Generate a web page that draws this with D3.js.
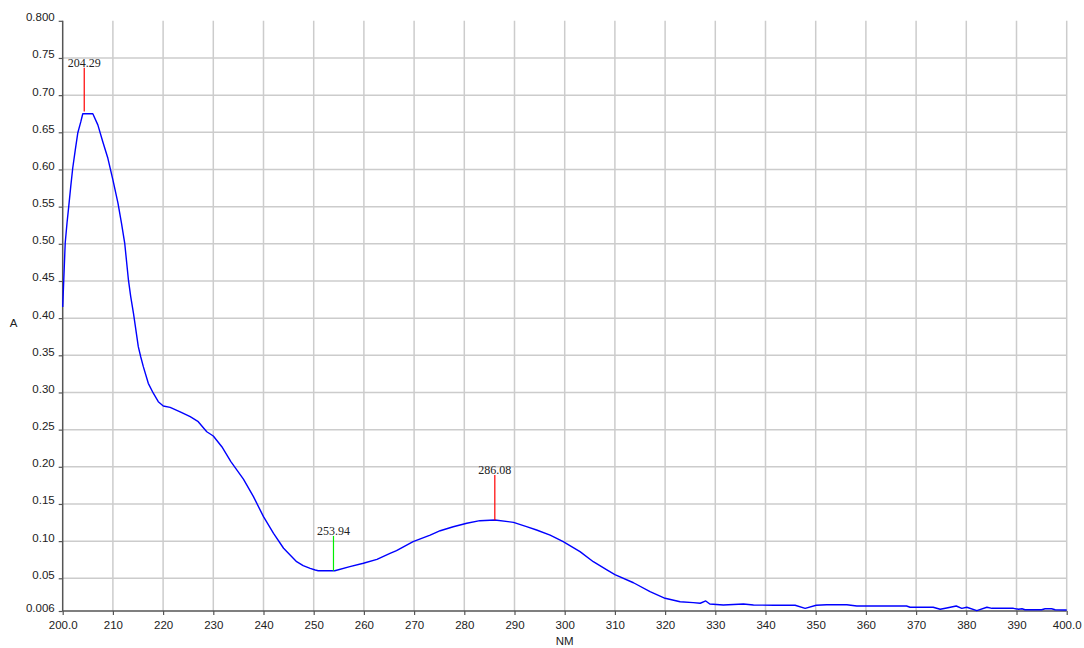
<!DOCTYPE html>
<html>
<head>
<meta charset="utf-8">
<script src="https://cdn.jsdelivr.net/npm/d3@7"></script>
<style>
  html, body { margin: 0; padding: 0; background: #ffffff; }
  svg { display: block; }
</style>
</head>
<body>
<script>
// ---- Data ----
const wavelengths = [
  200.0, 200.5, 200.86, 201.2, 201.6, 202.0, 202.5, 203.0, 203.6, 204.0,
  206.0, 207.0, 208.0, 209.0, 210.0, 211.0, 211.7, 212.35, 213.1, 213.55,
  214.1, 215.06, 215.54, 216.06, 217.05, 218.05, 219.04, 220.04, 221.4, 223.4,
  225.4, 227.0, 228.7, 230.0, 231.7, 233.5, 236.0, 238.0, 240.0, 242.0,
  244.0, 246.6, 247.9, 249.3, 250.3, 250.9, 254.2, 257.2, 259.9, 262.6,
  265.2, 266.5, 269.8, 273.2, 275.2, 277.8, 280.5, 283.1, 286.1, 289.8,
  292.4, 294.4, 297.1, 299.7, 303.05, 305.7, 308.4, 310.0, 313.7, 317.0,
  320.0, 323.0, 325.6, 327.0, 328.1, 328.9, 331.6, 335.6, 337.6, 341.6,
  345.9, 347.9, 350.1, 352.2, 356.2, 358.2, 368.1, 368.8, 373.4, 374.8,
  376.1, 378.0, 379.1, 380.1, 382.1, 384.1, 385.1, 389.4, 390.4, 391.1,
  391.7, 395.0, 395.7, 397.0, 397.7, 400.0
];
const absorbance = [
  0.415, 0.501, 0.528, 0.550, 0.577, 0.602, 0.626, 0.649, 0.664, 0.675,
  0.675, 0.660, 0.637, 0.615, 0.586, 0.555, 0.528, 0.501, 0.451, 0.429,
  0.4065, 0.3616, 0.348, 0.3347, 0.3123, 0.299, 0.2876, 0.2818, 0.280, 0.274,
  0.2674, 0.2607, 0.2472, 0.2414, 0.227, 0.207, 0.1835, 0.1598, 0.1329, 0.1105,
  0.0904, 0.0723, 0.067, 0.0634, 0.0612, 0.0602, 0.0602, 0.0656, 0.0702, 0.0755,
  0.0836, 0.0871, 0.0993, 0.1082, 0.114, 0.1194, 0.124, 0.1275, 0.1284, 0.1253,
  0.1194, 0.115, 0.1082, 0.0993, 0.0858, 0.0723, 0.0612, 0.0548, 0.0440, 0.032,
  0.0231, 0.0185, 0.0172, 0.0164, 0.0195, 0.0154, 0.0141, 0.0154, 0.0141, 0.0137,
  0.0137, 0.0096, 0.0137, 0.0145, 0.0145, 0.0127, 0.0127, 0.011, 0.011, 0.0083,
  0.010, 0.0127, 0.0096, 0.011, 0.0064, 0.011, 0.0096, 0.0096, 0.0083, 0.009,
  0.0077, 0.0077, 0.009, 0.009, 0.0077, 0.0073
];

// Peak / valley markers
const peakNm    = [204.29, 253.94, 286.08];
const peakBase  = [0.678, 0.060, 0.128];
const peakTop   = [0.737, 0.107, 0.189];
const peakType  = ["max", "min", "max"];
const peakLabel = ["204.29", "253.94", "286.08"];

// Axis ticks
const xTickValues = [200, 210, 220, 230, 240, 250, 260, 270, 280, 290, 300,
                     310, 320, 330, 340, 350, 360, 370, 380, 390, 400];
const xTickLabels = ["200.0", "210", "220", "230", "240", "250", "260", "270", "280", "290", "300",
                     "310", "320", "330", "340", "350", "360", "370", "380", "390", "400.0"];
const yTickValues = [0.006, 0.05, 0.10, 0.15, 0.20, 0.25, 0.30, 0.35, 0.40,
                     0.45, 0.50, 0.55, 0.60, 0.65, 0.70, 0.75, 0.800];
const yTickLabels = ["0.006", "0.05", "0.10", "0.15", "0.20", "0.25", "0.30", "0.35", "0.40",
                     "0.45", "0.50", "0.55", "0.60", "0.65", "0.70", "0.75", "0.800"];

const xTitle = "NM";
const yTitle = "A";

// ---- Layout ----
const W = 1084, H = 648;
const mLeft = 62.7, mRight = 1066.7, mTop = 20.8, mBottom = 611;

const svg = d3.select("body").append("svg")
  .attr("width", W).attr("height", H)
  .style("font-family", "'Liberation Sans', Arial, sans-serif");

const x = d3.scaleLinear().domain([200, 400]).range([mLeft, mRight]);
const y = d3.scaleLinear().domain([0.006, 0.8]).range([mBottom, mTop]);

// Grid
const grid = svg.append("g").attr("class", "grid");
grid.selectAll("line.v").data(xTickValues.slice(1)).enter().append("line")
  .attr("class", "v")
  .attr("x1", d => x(d)).attr("x2", d => x(d))
  .attr("y1", mTop).attr("y2", mBottom)
  .attr("stroke", "#cccccc").attr("stroke-width", 1.5);
grid.selectAll("line.h").data(yTickValues.slice(1, -1)).enter().append("line")
  .attr("class", "h")
  .attr("x1", mLeft).attr("x2", mRight)
  .attr("y1", d => y(d)).attr("y2", d => y(d))
  .attr("stroke", "#cccccc").attr("stroke-width", 1.5);

// Axes
const xAxis = d3.axisBottom(x)
  .tickValues(xTickValues)
  .tickFormat((d, i) => xTickLabels[i])
  .tickSize(4).tickPadding(6);
const yAxis = d3.axisLeft(y)
  .tickValues(yTickValues)
  .tickFormat((d, i) => yTickLabels[i])
  .tickSize(4).tickPadding(4);

const gx = svg.append("g").attr("transform", `translate(0,${mBottom})`).call(xAxis);
const gy = svg.append("g").attr("transform", `translate(${mLeft},0)`).call(yAxis);

[gx, gy].forEach(g => {
  g.select(".domain").attr("stroke", "#555555").attr("stroke-width", 1.5);
  g.selectAll(".tick line").attr("stroke", "#555555").attr("stroke-width", 1.2);
  g.selectAll(".tick text")
    .attr("fill", "#222222")
    .style("font-family", "'Liberation Sans', Arial, sans-serif")
    .style("font-size", "11.5px");
});
gy.selectAll(".tick text").attr("dy", "0").attr("y", 0);
gx.selectAll(".tick text").attr("dy", "0.71em");
gy.select(".domain").attr("d", `M0,${mBottom}V${mTop}`);
gx.select(".domain").attr("d", `M${mLeft},0H${mRight}`);

// Axis titles
svg.append("text").attr("x", 13.5).attr("y", 327)
  .attr("text-anchor", "middle").attr("fill", "#222")
  .style("font-size", "11.5px").text(yTitle);
svg.append("text").attr("x", (mLeft + mRight) / 2).attr("y", 645)
  .attr("text-anchor", "middle").attr("fill", "#222")
  .style("font-size", "11.5px").text(xTitle);

// Spectrum curve
const pts = wavelengths.map((w, i) => [w, absorbance[i]]);
const line = d3.line().x(d => x(d[0])).y(d => y(d[1]));
svg.append("path").datum(pts)
  .attr("d", line)
  .attr("fill", "none")
  .attr("stroke", "#0000ff")
  .attr("stroke-width", 1.4)
  .attr("stroke-linejoin", "round");

// Peak markers
const markers = svg.append("g");
peakNm.forEach((nm, i) => {
  const col = peakType[i] === "max" ? "#ff0000" : "#00ee00";
  markers.append("line")
    .attr("x1", x(nm)).attr("x2", x(nm))
    .attr("y1", y(peakBase[i])).attr("y2", y(peakTop[i]))
    .attr("stroke", col).attr("stroke-width", 1.2);
  markers.append("text")
    .attr("x", x(nm)).attr("y", y(peakTop[i]) - 1)
    .attr("text-anchor", "middle")
    .attr("fill", "#222")
    .style("font-family", "'Liberation Serif', 'Times New Roman', serif")
    .style("font-size", "12px")
    .text(peakLabel[i]);
});
</script>
</body>
</html>
